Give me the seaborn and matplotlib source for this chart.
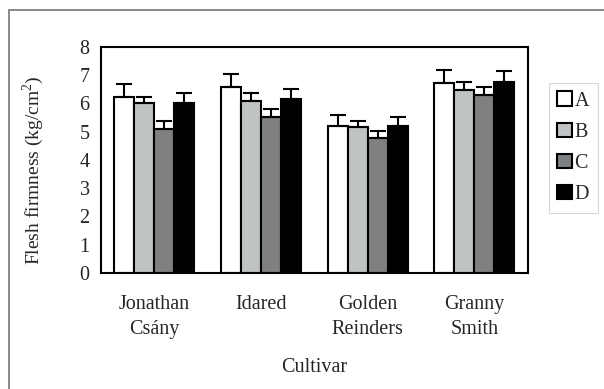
import matplotlib
matplotlib.use("Agg")
import matplotlib.pyplot as plt
import seaborn as sns
import pandas as pd
import numpy as np
from matplotlib.patches import Rectangle, Patch

cultivars = ["Jonathan\nCsány", "Idared", "Golden\nReinders", "Granny\nSmith"]
treatments = ["A", "B", "C", "D"]
means = {
    "A": [6.23, 6.56, 5.20, 6.70],
    "B": [6.00, 6.09, 5.15, 6.46],
    "C": [5.10, 5.50, 4.76, 6.28],
    "D": [6.00, 6.14, 5.19, 6.76],
}
errors = {
    "A": [0.45, 0.47, 0.37, 0.47],
    "B": [0.23, 0.27, 0.22, 0.28],
    "C": [0.27, 0.28, 0.27, 0.29],
    "D": [0.36, 0.35, 0.31, 0.38],
}
colors = ["#ffffff", "#bfc3c5", "#7d8083", "#000000"]
yticks = [0, 1, 2, 3, 4, 5, 6, 7, 8]

rows = []
for t in treatments:
    for c, m, e in zip(cultivars, means[t], errors[t]):
        rows.append({"Cultivar": c, "Treatment": t, "Mean": m, "Err": e})
df = pd.DataFrame(rows)

sns.set_style("white")
plt.rcParams["font.family"] = ["Liberation Serif", "DejaVu Serif"]
plt.rcParams["mathtext.fontset"] = "custom"
plt.rcParams["mathtext.rm"] = "Liberation Serif"

FS = 14.5

fig = plt.figure(figsize=(6.04, 3.89), dpi=100)
ax = fig.add_axes([100.7 / 604, 1 - 273 / 389, 427 / 604, 226.3 / 389])

sns.barplot(data=df, x="Cultivar", y="Mean", hue="Treatment", hue_order=treatments,
            palette=colors, errorbar=None, width=0.75, edgecolor="black",
            linewidth=1.5, ax=ax, legend=False, zorder=2)

for i, t in enumerate(treatments):
    cont = ax.containers[i]
    xs = [p.get_x() + p.get_width() / 2 for p in cont.patches]
    ax.errorbar(xs, means[t], yerr=[np.zeros(len(xs)), errors[t]], fmt="none",
                ecolor="black", elinewidth=1.5, capsize=5.5, capthick=1.5, zorder=3)

ax.set_ylim(0, 8)
ax.set_xlim(-0.5, 3.5)
ax.set_yticks(yticks)
ax.set_yticklabels([str(v) for v in yticks], fontsize=FS)
ax.set_xticks([0, 1, 2, 3])
ax.set_xticklabels(cultivars, fontsize=FS, linespacing=1.4)
ax.set_xticks([-0.5, 0.5, 1.5, 2.5, 3.5], minor=True)
ax.tick_params(axis="x", which="major", length=0, pad=16)
ax.tick_params(axis="x", which="minor", length=5, color="#999999", width=0.8, direction="out")
ax.tick_params(axis="y", length=5, color="#999999", width=0.8, direction="out", pad=3)
for s in ax.spines.values():
    s.set_color("black")
    s.set_linewidth(1.5)
    s.set_visible(True)

ax.set_xlabel("Cultivar", fontsize=FS, labelpad=14)
ax.set_ylabel("Flesh firmness (kg/cm$^\\mathrm{2}$)", fontsize=14)
ax.yaxis.set_label_coords(-0.127, 0.455)

handles = [Patch(facecolor=c, edgecolor="black", linewidth=1.5, label=t)
           for c, t in zip(colors, treatments)]
leg = fig.legend(handles=handles, loc="upper left", bbox_to_anchor=(549 / 604, 1 - 83 / 389),
                 frameon=True, fancybox=False, fontsize=FS, handlelength=0.7, handleheight=0.7,
                 handletextpad=0.15, labelspacing=0.6, borderpad=0.42, borderaxespad=0)
leg.get_frame().set_edgecolor("#cccccc")
leg.get_frame().set_linewidth(0.8)

fig.patches.append(Rectangle((9 / 604, -0.1), 1.2, 1 - 10 / 389 + 0.1, transform=fig.transFigure,
                             fill=False, edgecolor="#777777", linewidth=1.2, zorder=0))

fig.savefig("out.png", dpi=100)
